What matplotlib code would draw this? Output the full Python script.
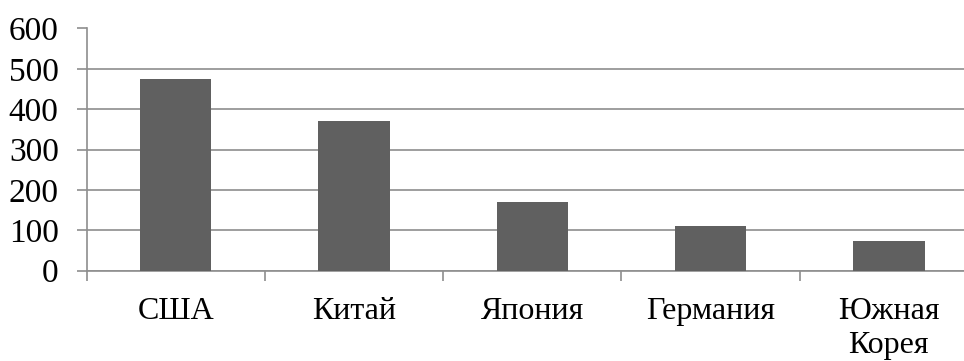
import matplotlib
matplotlib.use("Agg")
import matplotlib.pyplot as plt
from matplotlib.ticker import FixedLocator, NullFormatter
import numpy as np

countries = ["США", "Китай", "Япония", "Германия", "Южная\nКорея"]
values = [476, 370, 171, 110, 73]
y_ticks = [0, 100, 200, 300, 400, 500, 600]

plt.rcParams["font.family"] = ["Liberation Serif", "DejaVu Serif"]

fig = plt.figure(figsize=(9.64, 3.61), dpi=100)
W, H = 964, 361
left_px, zero_px, top_px, cat_px = 86.5, 270.5, 28.5, 178.3
ax = fig.add_axes([left_px / W, (H - zero_px) / H,
                   5 * cat_px / W, (zero_px - top_px) / H])

grid_c = "#8e8e8e"
x = np.arange(len(countries))
ax.bar(x, values, width=0.4, color="#606060", zorder=3)

ax.set_xlim(-0.5, len(countries) - 0.5)
ax.set_ylim(0, 600)
ax.set_yticks(y_ticks)
ax.set_yticklabels([str(v) for v in y_ticks], fontsize=24)
ax.yaxis.grid(True, color=grid_c, linewidth=1.2, zorder=0)

ax.set_xticks(x)
ax.set_xticklabels(countries, fontsize=23, linespacing=1.25)
ax.xaxis.set_minor_locator(FixedLocator(np.arange(-0.5, len(countries), 1.0)))
ax.xaxis.set_minor_formatter(NullFormatter())
ax.tick_params(axis="x", which="major", length=0, pad=19)
ax.tick_params(axis="x", which="minor", length=7, width=1.2, color=grid_c, direction="out")
ax.tick_params(axis="y", length=7, width=1.2, color=grid_c, pad=13)

for s in ["top", "right"]:
    ax.spines[s].set_visible(False)
for s in ["left", "bottom"]:
    ax.spines[s].set_color(grid_c)
    ax.spines[s].set_linewidth(1.2)

fig.savefig("out.png", dpi=100)
